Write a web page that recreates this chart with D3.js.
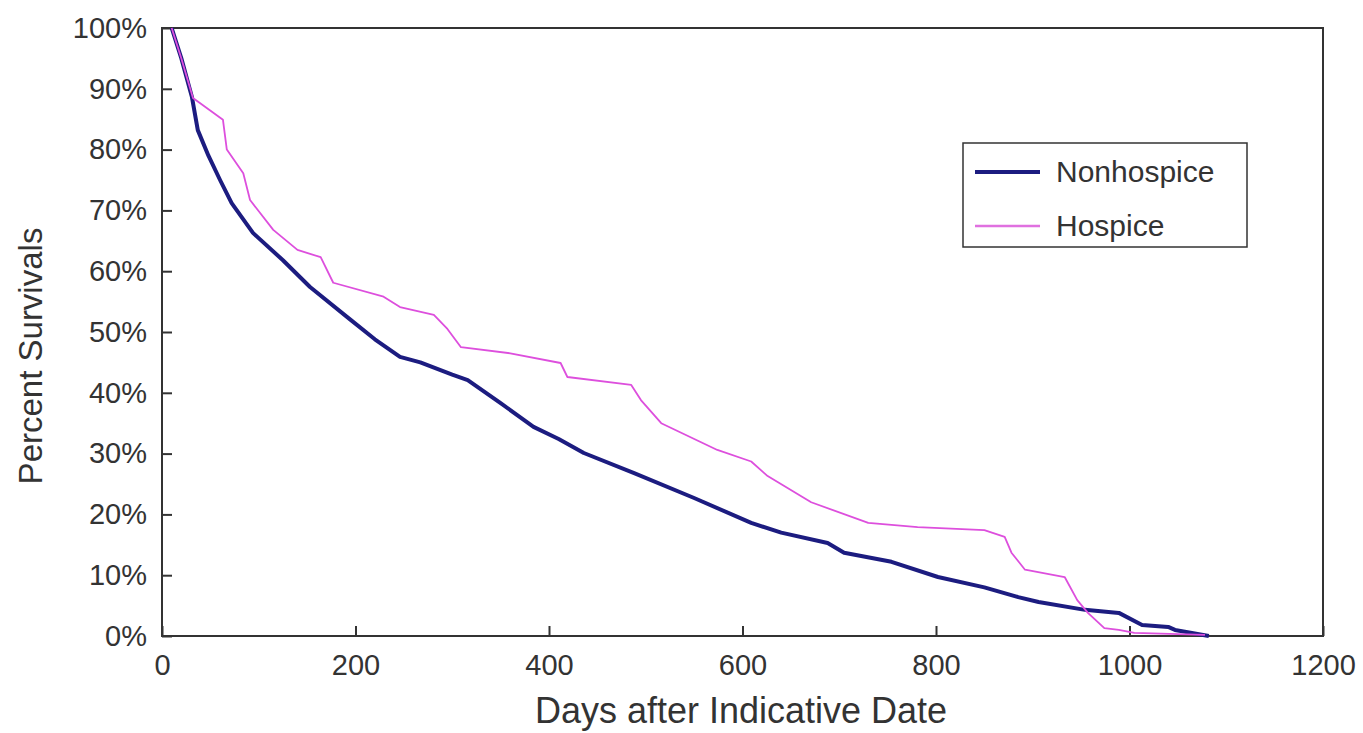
<!DOCTYPE html>
<html>
<head>
<meta charset="utf-8">
<script src="https://cdn.jsdelivr.net/npm/d3@7"></script>
<style>
  body { margin: 0; background: #fff; }
  text { font-family: "Liberation Sans", Arial, sans-serif; fill: #333; }
</style>
</head>
<body>
<svg width="1363" height="733"></svg>
<script>
// survival curves (days, percent surviving)
var nonhospiceDays = [10, 20, 31, 37, 48, 60, 72, 94, 125, 153, 195, 220, 246, 267, 300, 316, 350, 384, 410, 436, 488, 550, 609, 640, 688, 705, 754, 802, 850, 885, 906, 954, 989, 1013, 1040, 1047, 1082];
var nonhospicePct = [100, 95, 88.6, 83.2, 79, 75, 71.2, 66.3, 61.8, 57.4, 52, 48.8, 45.9, 45, 43, 42.1, 38.3, 34.4, 32.4, 30.1, 26.8, 22.7, 18.6, 17, 15.3, 13.7, 12.2, 9.7, 8, 6.4, 5.6, 4.3, 3.8, 1.8, 1.5, 1.0, 0];

var hospiceDays = [10, 20, 32, 63, 67, 84, 91, 115, 140, 164, 177, 229, 246, 281, 295, 309, 360, 412, 419, 485, 495, 516, 574, 609, 626, 671, 730, 781, 850, 871, 878, 892, 933, 946, 957, 974, 989, 1005, 1078];
var hospicePct = [100, 95, 88.5, 84.9, 80, 76.1, 71.7, 66.8, 63.5, 62.3, 58.1, 55.8, 54.1, 52.8, 50.5, 47.5, 46.5, 44.9, 42.6, 41.3, 38.8, 35, 30.6, 28.7, 26.3, 22, 18.6, 17.9, 17.4, 16.3, 13.7, 10.9, 9.7, 5.9, 3.8, 1.3, 1.0, 0.5, 0.2];

var xTicks = [0, 200, 400, 600, 800, 1000, 1200];
var yTicks = [0, 10, 20, 30, 40, 50, 60, 70, 80, 90, 100];
var seriesNames = ["Nonhospice", "Hospice"];

var svg = d3.select("svg");
var plotLeft = 162, plotRight = 1323, plotTop = 28, plotBottom = 636;

var x = d3.scaleLinear().domain([0, 1200]).range([plotLeft, plotRight]);
var y = d3.scaleLinear().domain([0, 100]).range([plotBottom, plotTop]);

// axes, ticks pointing in
var xAxis = svg.append("g")
  .attr("transform", "translate(0," + plotBottom + ")")
  .call(d3.axisBottom(x).tickValues(xTicks).tickSize(-10).tickPadding(18).tickFormat(d3.format("d")));
var yAxis = svg.append("g")
  .attr("transform", "translate(" + plotLeft + ",0)")
  .call(d3.axisLeft(y).tickValues(yTicks).tickSize(-10).tickPadding(15).tickFormat(function(d) { return d + "%"; }));

[xAxis, yAxis].forEach(function(a) {
  a.select(".domain").remove();
  a.selectAll(".tick line").attr("stroke", "#333").attr("stroke-width", 2);
  a.selectAll(".tick text")
    .style("font-family", "'Liberation Sans', Arial, sans-serif")
    .style("font-size", "29px")
    .attr("fill", "#333");
});

// frame
svg.append("rect")
  .attr("x", plotLeft).attr("y", plotTop)
  .attr("width", plotRight - plotLeft).attr("height", plotBottom - plotTop)
  .attr("fill", "none").attr("stroke", "#333").attr("stroke-width", 2);

var line = d3.line()
  .x(function(d) { return x(d[0]); })
  .y(function(d) { return y(d[1]); });

var hospice = d3.zip(hospiceDays, hospicePct);
var nonhospice = d3.zip(nonhospiceDays, nonhospicePct);

svg.append("path").datum(nonhospice)
  .attr("d", line)
  .attr("fill", "none")
  .attr("stroke", "#1c1c80")
  .attr("stroke-width", 4)
  .attr("stroke-linejoin", "round");

svg.append("path").datum(hospice)
  .attr("d", line)
  .attr("fill", "none")
  .attr("stroke", "#dd4fdd")
  .attr("stroke-width", 1.8)
  .attr("stroke-linejoin", "round");

// axis titles
svg.append("text")
  .attr("x", 741).attr("y", 723)
  .attr("text-anchor", "middle")
  .style("font-size", "36px")
  .text("Days after Indicative Date");

svg.append("text")
  .attr("transform", "rotate(-90)")
  .attr("x", -356).attr("y", 42)
  .attr("text-anchor", "middle")
  .style("font-size", "33px")
  .text("Percent Survivals");

// legend
var legend = svg.append("g");
legend.append("rect")
  .attr("x", 963).attr("y", 143).attr("width", 284).attr("height", 104)
  .attr("fill", "#fff").attr("stroke", "#333").attr("stroke-width", 1.5);

var legendColors = ["#1c1c80", "#e070e0"];
var legendWidths = [4, 2.5];
seriesNames.forEach(function(name, i) {
  var ly = 172 + i * 54;
  legend.append("line")
    .attr("x1", 975).attr("x2", 1040)
    .attr("y1", ly).attr("y2", ly)
    .attr("stroke", legendColors[i])
    .attr("stroke-width", legendWidths[i]);
  legend.append("text")
    .attr("x", 1056).attr("y", ly + 10)
    .style("font-size", "30px")
    .text(name);
});
</script>
</body>
</html>
